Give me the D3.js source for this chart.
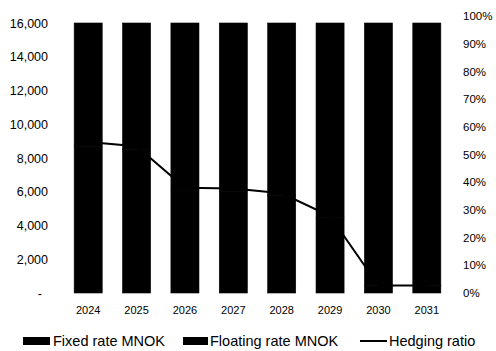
<!DOCTYPE html>
<html>
<head>
<meta charset="utf-8">
<script src="https://cdnjs.cloudflare.com/ajax/libs/d3/7.8.5/d3.min.js"></script>
<style>
  body { margin: 0; background: #fff; }
  text { font-family: "Liberation Sans", Arial, sans-serif; fill: #000; }
</style>
</head>
<body>
<div id="chart"></div>
<script>
var years = ["2024", "2025", "2026", "2027", "2028", "2029", "2030", "2031"];
var fixedRate = [8700, 8500, 6100, 6000, 5800, 4450, 430, 430];
var floatingRate = [7300, 7500, 9900, 10000, 10200, 11550, 15570, 15570];
var hedgingRatio = [0.545, 0.53, 0.38, 0.377, 0.36, 0.278, 0.027, 0.027];
var leftTicks = [0, 2000, 4000, 6000, 8000, 10000, 12000, 14000, 16000];
var rightTicks = [0, 0.1, 0.2, 0.3, 0.4, 0.5, 0.6, 0.7, 0.8, 0.9, 1];

var width = 496, height = 351;
var plotLeft = 64, plotRight = 451, plotBottom = 293;

var svg = d3.select("#chart").append("svg")
    .attr("width", width)
    .attr("height", height);

var x = d3.scaleBand().domain(years).range([plotLeft, plotRight]).paddingInner(0.42).paddingOuter(0.21);
var yLeft = d3.scaleLinear().domain([0, 16000]).range([plotBottom, 23]);
var yRight = d3.scaleLinear().domain([0, 1]).range([plotBottom, 16]);

// stacked bars (both series black)
var rows = years.map(function(y, i) { return {year: y, fixed: fixedRate[i], floating: floatingRate[i]}; });
var stack = d3.stack().keys(["fixed", "floating"])(rows);
svg.append("g").selectAll("g")
    .data(stack)
    .enter().append("g")
    .attr("fill", "#000")
    .attr("stroke", "#000")
    .attr("stroke-width", 0.6)
    .selectAll("rect")
    .data(function(d) { return d; })
    .enter().append("rect")
    .attr("x", function(d) { return x(d.data.year); })
    .attr("y", function(d) { return yLeft(d[1]); })
    .attr("width", x.bandwidth())
    .attr("height", function(d) { return yLeft(d[0]) - yLeft(d[1]); });

// hedging ratio line
var line = d3.line()
    .x(function(d, i) { return x(years[i]) + x.bandwidth() / 2; })
    .y(function(d) { return yRight(d); });
svg.append("path")
    .datum(hedgingRatio)
    .attr("d", line)
    .attr("fill", "none")
    .attr("stroke", "#000")
    .attr("stroke-width", 2);

// left axis
var leftAxis = svg.append("g")
    .attr("transform", "translate(48,0)")
    .call(d3.axisLeft(yLeft).tickValues(leftTicks).tickSize(0).tickPadding(0)
        .tickFormat(function(d) { return d === 0 ? "-" : d3.format(",")(d); }));
leftAxis.select(".domain").remove();
leftAxis.selectAll("text").attr("font-size", "12.5px").attr("font-family", null);
leftAxis.selectAll("text").filter(function(d) { return d === 0; }).attr("dx", "-6");

// right axis
var rightAxis = svg.append("g")
    .attr("transform", "translate(463,0)")
    .call(d3.axisRight(yRight).tickValues(rightTicks).tickSize(0).tickPadding(0)
        .tickFormat(d3.format(".0%")));
rightAxis.select(".domain").remove();
rightAxis.selectAll("text").attr("font-size", "11.5px").attr("font-family", null);

// x axis
var xAxis = svg.append("g")
    .attr("transform", "translate(0,306)")
    .call(d3.axisBottom(x).tickSize(0).tickPadding(0));
xAxis.select(".domain").remove();
xAxis.selectAll("text").attr("font-size", "11px").attr("font-family", null);

// legend
var legend = svg.append("g").attr("font-size", "14.5px");
legend.append("rect").attr("x", 23).attr("y", 337).attr("width", 27).attr("height", 8).attr("fill", "#000");
legend.append("text").attr("x", 53).attr("y", 346).text("Fixed rate MNOK");
legend.append("rect").attr("x", 183).attr("y", 337).attr("width", 25).attr("height", 8).attr("fill", "#000");
legend.append("text").attr("x", 210).attr("y", 346).text("Floating rate MNOK");
legend.append("line").attr("x1", 360).attr("x2", 387).attr("y1", 341).attr("y2", 341).attr("stroke", "#000").attr("stroke-width", 2);
legend.append("text").attr("x", 389).attr("y", 346).text("Hedging ratio");
</script>
</body>
</html>
